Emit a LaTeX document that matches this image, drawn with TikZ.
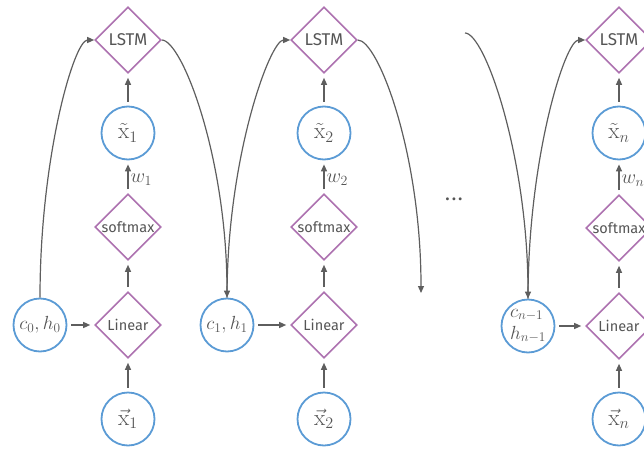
\RequirePackage{fix-cm}
\documentclass[tikz,border=0pt]{standalone}
\usepackage[no-math]{fontspec}
\setmainfont{Fira Sans}
\usetikzlibrary{shapes.geometric,arrows.meta}
\definecolor{cblue}{HTML}{5B9BD5}
\definecolor{cpurp}{HTML}{AD72B0}
\definecolor{cgray}{HTML}{5E5E5E}
\definecolor{ctext}{HTML}{555555}
\tikzset{
  vcirc/.style={circle,draw=cblue,line width=1.8pt,minimum size=53pt,inner sep=0pt,text=ctext,font=\fontsize{19}{21}\selectfont},
  xcirc/.style={vcirc,font=\fontsize{23}{25}\selectfont},
  dbox/.style={diamond,aspect=1,draw=cpurp,line width=1.6pt,minimum size=66pt,inner sep=0pt,text=ctext,font=\fontsize{14.5}{16}\selectfont},
  lbox/.style={dbox,font=\fontsize{17}{19}\selectfont},
  arr/.style={draw=cgray,line width=1.2pt,-{Triangle[length=7pt,width=6pt]}},
  sarr/.style={arr,shorten >=4pt,shorten <=4pt},
  wlab/.style={right,text=ctext,inner sep=2pt,font=\fontsize{20}{22}\selectfont},
}
\begin{document}
\begin{tikzpicture}[x={(1pt,0)},y={(0,-1pt)}]
\useasboundingbox (0,0) rectangle (644,449);
\clip (0,0) rectangle (644,449);
% column 1
\node[lbox] (L1) at (128,40) {LSTM};
\node[xcirc] (t1) at (128,133) {$\tilde{\mathrm{x}}_1$};
\node[dbox] (s1) at (128,227) {softmax};
\node[dbox] (n1) at (128,325) {Linear};
\node[xcirc] (v1) at (128,419) {$\vec{\mathrm{x}}_1$};
\node[vcirc] (c0) at (40,325) {$c_0,h_0$};
% column 2
\node[lbox] (L2) at (324,40) {LSTM};
\node[xcirc] (t2) at (324,133) {$\tilde{\mathrm{x}}_2$};
\node[dbox] (s2) at (324,227) {softmax};
\node[dbox] (n2) at (324,325) {Linear};
\node[xcirc] (v2) at (324,419) {$\vec{\mathrm{x}}_2$};
\node[vcirc] (c1) at (227,325) {$c_1,h_1$};
% column n
\node[lbox] (L3) at (619,40) {LSTM};
\node[xcirc] (t3) at (619,133) {$\tilde{\mathrm{x}}_n$};
\node[dbox] (s3) at (619,228) {softmax};
\node[dbox] (n3) at (619,326) {Linear};
\node[xcirc] (v3) at (619,419) {$\vec{\mathrm{x}}_n$};
\node[vcirc,align=left,font=\fontsize{19}{22}\selectfont] (cn) at (528,326) {$c_{n-1}$\\$h_{n-1}$};
\node[text=ctext,anchor=base,font=\fontsize{16}{18}\selectfont\bfseries] (dots) at (454,200) {.\hspace{2.5pt}.\hspace{2.5pt}.};
\coordinate (e2) at (421,293);
\coordinate (b3) at (465,33);
% vertical arrows
\foreach \i/\w in {1/w_1,2/w_2,3/w_n}{
  \draw[sarr] (v\i) -- (n\i);
  \draw[sarr] (n\i) -- (s\i);
  \draw[sarr] (s\i) -- node[wlab,pos=0.4]{$\w$} (t\i);
  \draw[sarr] (t\i) -- (L\i);
}
\draw[sarr] (c0) -- (n1);
\draw[sarr] (c1) -- (n2);
\draw[sarr] (cn) -- (n3);
% recurrent curves
\draw[arr] (c0.north) .. controls +(0,-141) and +(-20,0) .. (L1.west);
\draw[arr] (L1.east) .. controls +(20,0) and +(0,-141) .. (c1.north);
\draw[arr] (c1.north) .. controls +(0,-141) and +(-20,0) .. (L2.west);
\draw[arr] (L2.east) .. controls +(20,0) and +(0,-141) .. (e2);
\draw[arr] (b3) .. controls +(20,0) and +(0,-141) .. (cn.north);
\draw[arr] (cn.north) .. controls +(0,-141) and +(-20,0) .. (L3.west);
\end{tikzpicture}
\end{document}
